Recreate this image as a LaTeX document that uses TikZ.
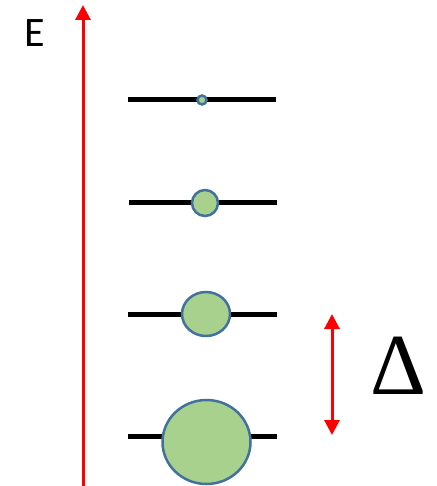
\documentclass[tikz,border=0pt]{standalone}
\usepackage{fontspec}
\setmainfont{Carlito}
\newfontfamily\deltafont{Liberation Serif}
\usetikzlibrary{arrows.meta}
\definecolor{orbfill}{HTML}{A9D18E}
\definecolor{orbline}{HTML}{41719C}
\tikzset{
  level/.style={line width=5pt, black},
  orb/.style={draw=orbline, fill=orbfill, line width=2.5pt},
  redarrow/.style={red, line width=3pt, -{Triangle[width=15pt,length=15pt]}},
  redboth/.style={red, line width=3pt, {Triangle[width=15pt,length=15pt]}-{Triangle[width=15pt,length=15pt]}}
}
\begin{document}
\begin{tikzpicture}[x=1pt,y=-1pt]
\useasboundingbox (0,0) rectangle (436,486);
\node (E) at (35,33) {\fontsize{42}{48}\selectfont E};
\coordinate (ebot) at (83,486);
\coordinate (etop) at (83,5);
\draw[redarrow] (ebot) -- (etop);
% levels
\coordinate (l1a) at (128,100); \coordinate (l1b) at (276,100);
\coordinate (l2a) at (129,202); \coordinate (l2b) at (277,202);
\coordinate (l3a) at (128,314); \coordinate (l3b) at (277,314);
\coordinate (l4a) at (128,436); \coordinate (l4b) at (277,436);
\draw[level] (l1a) -- (l1b);
\draw[level] (l2a) -- (l2b);
\draw[level] (l3a) -- (l3b);
\draw[level] (l4a) -- (l4b);
\draw[orb] (202,100) circle (4.5pt);
\draw[orb] (205,203) circle (13pt);
\draw[orb] (206,314) ellipse [x radius=24pt, y radius=22pt];
\draw[orb] (206.5,442) ellipse [x radius=44pt, y radius=42pt];
% gap arrow
\coordinate (gtop) at (332,314);
\coordinate (gbot) at (332,435);
\draw[redboth] (gbot) -- (gtop);
\node (D) at (398,366) {\deltafont\fontsize{87}{90}\selectfont Δ};
\end{tikzpicture}
\end{document}
